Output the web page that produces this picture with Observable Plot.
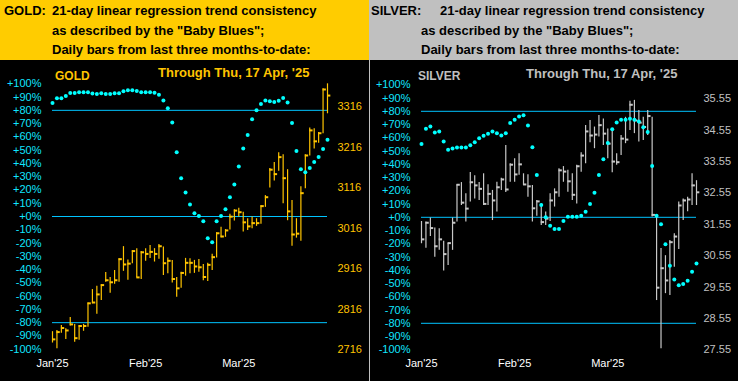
<!DOCTYPE html>
<html><head><meta charset="utf-8">
<script src="https://cdn.jsdelivr.net/npm/d3@7"></script>
<script src="https://cdn.jsdelivr.net/npm/@observablehq/plot@0.6"></script>
<style>
html,body{margin:0;padding:0;background:#000;}
body{width:738px;height:381px;overflow:hidden;font-family:"Liberation Sans",Arial,sans-serif;}
#wrap{position:relative;width:738px;height:381px;}
.panel{position:absolute;top:0;width:369px;height:381px;}
.head{position:absolute;left:0;top:0;width:369px;height:60px;font-weight:bold;font-size:13px;color:#000;}
.head span{position:absolute;white-space:nowrap;line-height:14px;}
.plotarea{position:absolute;left:0;top:60px;width:369px;height:321px;background:#000;}
.plotarea svg{position:absolute;left:0;top:0;}
.ptitle{position:absolute;font-weight:bold;white-space:nowrap;}
.vline{position:absolute;left:0;top:0;width:1px;height:321px;background:#c0c0c0;}
</style></head>
<body>
<div id="wrap">
  <div class="panel" id="gold" style="left:0">
    <div class="head" style="background:#ffcc00">
      <span style="left:4px;top:4px">GOLD:</span>
      <span style="left:52px;top:4px">21-day linear regression trend consistency</span>
      <span style="left:52px;top:24px">as described by the "Baby Blues";</span>
      <span style="left:52px;top:43px">Daily bars from last three months-to-date:</span>
    </div>
    <div class="plotarea" id="goldPlot">
      <div class="ptitle" style="left:55px;top:10px;font-size:12px;line-height:12px;color:#ffc400">GOLD</div>
      <div class="ptitle" style="left:158px;top:6px;font-size:13px;line-height:13px;color:#ffc400">Through Thu, 17 Apr, '25</div>
    </div>
  </div>
  <div class="panel" id="silver" style="left:369px">
    <div class="head" style="background:#c0c0c0">
      <span style="left:2px;top:4px">SILVER:</span>
      <span style="left:71px;top:4px">21-day linear regression trend consistency</span>
      <span style="left:52px;top:24px">as described by the "Baby Blues";</span>
      <span style="left:52px;top:43px">Daily bars from last three months-to-date:</span>
    </div>
    <div class="plotarea" id="silverPlot">
      <div class="vline"></div>
      <div class="ptitle" style="left:49px;top:10px;font-size:12px;line-height:12px;color:#c0c0c0">SILVER</div>
      <div class="ptitle" style="left:157px;top:7px;font-size:13px;line-height:13px;color:#c0c0c0">Through Thu, 17 Apr, '25</div>
    </div>
  </div>
</div>
<script>
// ---- Data ----
const xTickIdx = [0, 21, 42];
const xTickLabels = ["Jan'25", "Feb'25", "Mar'25"];
const pctTicks = [-100, -90, -80, -70, -60, -50, -40, -30, -20, -10, 0, 10, 20, 30, 40, 50, 60, 70, 80, 90, 100];
const levels = [80, 0, -80];

const goldPriceTicks = [2716, 2816, 2916, 3016, 3116, 3216, 3316];
const silverPriceTicks = [27.55, 28.55, 29.55, 30.55, 31.55, 32.55, 33.55, 34.55, 35.55];

const goldHigh = [2760, 2763, 2775, 2767, 2795, 2778, 2775, 2778, 2831, 2864,
  2872, 2876, 2906, 2894, 2911, 2940, 2970, 2937, 2960, 2965,
  2958, 2965, 2973, 2965, 2975, 2969, 2942, 2936, 2894, 2907,
  2941, 2940, 2936, 2938, 2926, 2929, 2951, 3004, 3018, 3012,
  3050, 3061, 3065, 3055, 3039, 3043, 3039, 3071, 3096, 3163,
  3178, 3202, 3197, 3160, 3084, 3039, 3118, 3197, 3263, 3261,
  3252, 3360, 3372];
const goldLow = [2732, 2718, 2756, 2741, 2774, 2734, 2739, 2761, 2771, 2829,
  2803, 2837, 2882, 2855, 2877, 2882, 2909, 2887, 2928, 2893,
  2889, 2934, 2941, 2932, 2939, 2899, 2903, 2880, 2845, 2867,
  2897, 2903, 2904, 2907, 2886, 2884, 2911, 2942, 2992, 2993,
  3011, 3033, 3043, 3006, 3010, 3014, 3020, 3025, 3067, 3115,
  3132, 3156, 3076, 3034, 2971, 2991, 2983, 3113, 3194, 3211,
  3225, 3249, 3298];
const goldClose = [2741, 2759, 2769, 2763, 2778, 2744, 2774, 2774, 2830, 2832,
  2852, 2875, 2887, 2882, 2887, 2939, 2926, 2928, 2959, 2894,
  2956, 2952, 2957, 2952, 2971, 2929, 2935, 2890, 2867, 2905,
  2930, 2930, 2921, 2919, 2895, 2925, 2944, 3003, 2995, 3010,
  3044, 3059, 3055, 3030, 3020, 3028, 3028, 3070, 3092, 3160,
  3149, 3191, 3139, 3057, 3000, 3002, 3102, 3195, 3257, 3230,
  3250, 3358, 3343];
const goldBlues = [85.5, 89.1, 89.1, 90.8, 93.1, 93.1, 93.6, 93.6, 93.6, 92.6,
  92.3, 92.8, 92.3, 92.3, 92.8, 92.8, 94.3, 95.1, 95.1, 94.6,
  93.6, 93.6, 93.6, 93.3, 91.8, 87.5, 81.5, 70.9, 48.5, 28.9,
  18.1, 9.1, 2.5, 0.3, -3.5, -16.4, -19.4, -3.5, 0.3, 5.5,
  14.6, 24.2, 37.7, 51.3, 61.4, 73.2, 80, 84.8, 87.5, 86.8,
  86.3, 87.3, 89.3, 86, 70.4, 49.3, 35.7, 33.4, 36.5, 41,
  44.8, 50.8, 57.9];

const silverHigh = [31.64, 31.62, 31.75, 31.43, 31.41, 31.01, 30.95, 31.75, 32.81, 32.88,
  32.52, 33.20, 33.10, 32.88, 33.16, 32.81, 32.63, 32.89, 33.02, 34.06,
  33.48, 33.64, 33.80, 33.16, 33.13, 32.79, 32.31, 32.20, 31.94, 32.52,
  32.68, 33.32, 33.39, 33.27, 33.16, 33.43, 33.83, 34.70, 34.86, 34.65,
  35.02, 34.91, 34.59, 34.59, 33.80, 34.38, 34.96, 35.47, 35.50, 35.18,
  34.96, 35.18, 34.96, 31.78, 30.78, 30.55, 31.03, 31.25, 32.26, 32.36,
  32.41, 33.16, 32.94];
const silverLow = [30.93, 30.79, 31.16, 30.50, 30.72, 30.06, 30.24, 30.72, 31.62, 32.15,
  31.62, 32.26, 32.36, 32.31, 32.15, 32.15, 31.67, 31.94, 32.63, 32.56,
  32.89, 32.89, 33.11, 32.79, 32.41, 31.62, 31.81, 31.51, 31.51, 31.64,
  32.10, 32.41, 32.89, 32.57, 32.31, 32.20, 33.21, 33.48, 34.15, 33.96,
  34.33, 34.06, 33.64, 33.19, 33.43, 33.74, 34.12, 34.54, 34.44, 34.17,
  34.22, 34.38, 31.78, 29.12, 27.58, 29.34, 29.28, 30.18, 30.75, 31.67,
  31.95, 32.15, 32.15];
const silverClose = [31.07, 31.60, 31.43, 30.85, 31.07, 30.60, 30.95, 31.60, 32.81, 32.24,
  32.05, 32.89, 32.79, 32.68, 32.20, 32.52, 32.31, 32.73, 32.98, 32.66,
  33.45, 33.14, 33.46, 32.82, 32.76, 32.06, 32.28, 31.62, 31.73, 32.31,
  32.57, 33.27, 33.23, 32.92, 32.49, 33.40, 33.74, 34.51, 34.38, 34.41,
  34.71, 34.44, 34.12, 33.55, 33.53, 34.28, 34.25, 35.36, 34.86, 34.79,
  34.65, 35.00, 31.85, 29.53, 30.15, 29.76, 30.98, 31.16, 32.15, 32.31,
  32.34, 32.79, 32.57];
const silverBlues = [55.4, 66.8, 68.5, 64, 64.7, 57.2, 50.9, 51.9, 52.6, 52.6,
  52.6, 54.4, 56.7, 59.7, 61.5, 63, 64.7, 63.5, 61.7, 63.5,
  71.1, 73.6, 76.1, 77.1, 69.3, 52.9, 32, 9.3, 0, -6.3,
  -8.8, -8.8, -2.8, 0.5, 0.5, 0.5, 1.2, 4.2, 10, 18.6,
  32, 43.9, 56, 66.5, 71.5, 73.6, 73.6, 74.3, 73.6, 72.3,
  68, 64.3, 38.8, 1.2, -5.3, -20.4, -36.6, -46.9, -51.2, -50.4,
  -47.9, -41.1, -34.8];

// ---- Drawing ----
const W = 369, H = 321;
const FONT = "'Liberation Sans', Arial, Helvetica, sans-serif";
const LINE = "#00c4ff", DOT = "#00ffff", PCT = "#10e6ff";
const fmtPct = d => (d >= 0 ? "+" : "") + d + "%";

function drawPanel(el, cfg) {
  const N = cfg.close.length;
  const idx = d3.range(N);
  const xScale = {type: "linear", domain: [0, N - 1], range: [52, 327]};
  const pctY = {domain: [-100, 100], range: cfg.pctRange};
  const common = {width: W, height: H, marginLeft: 44, marginTop: 0, marginBottom: 25,
    style: {background: "transparent", fontFamily: FONT, fontSize: "11px", overflow: "visible"}};

  // Percent frame: reference lines and axes
  const base = Plot.plot({...common, marginRight: 0, x: xScale, y: pctY,
    marks: [
      Plot.ruleY(levels, {y: d => d, x1: () => 0, x2: () => N - 1, stroke: LINE, strokeWidth: 1}),
      Plot.axisY(pctTicks, {anchor: "left", tickSize: 0, tickPadding: 3, tickFormat: fmtPct,
        color: PCT, fontSize: 11, label: null}),
      Plot.axisX(xTickIdx, {anchor: "bottom", tickSize: 0, tickPadding: 3,
        tickFormat: d => xTickLabels[xTickIdx.indexOf(d)], color: "#ffffff", fontSize: 11, label: null})
    ]});

  // Price bars with their own right-hand axis
  const bars = Plot.plot({...common, marginRight: cfg.marginRight, x: {...xScale, axis: null},
    y: {domain: [cfg.priceTicks[0], cfg.priceTicks[cfg.priceTicks.length - 1]], range: cfg.priceRange},
    marks: [
      Plot.axisY(cfg.priceTicks, {anchor: "right", tickSize: 0, tickPadding: 3, tickFormat: cfg.fmt,
        color: cfg.labelColor, fontSize: 11, label: null}),
      Plot.ruleX(idx, {x: i => i, y1: i => cfg.low[i], y2: i => cfg.high[i], stroke: cfg.barColor, strokeWidth: 1.2}),
      Plot.ruleY(idx, {y: i => cfg.close[i], x1: i => i, x2: i => i + 0.75, stroke: cfg.barColor, strokeWidth: 2})
    ]});

  // Baby Blues dots on top
  const dots = Plot.plot({...common, marginRight: 0, x: {...xScale, axis: null}, y: {...pctY, axis: null},
    marks: [
      Plot.dot(idx, {x: i => i, y: i => cfg.blues[i], r: 2, fill: DOT, stroke: "none"})
    ]});

  el.appendChild(base);
  el.appendChild(bars);
  el.appendChild(dots);
}

drawPanel(document.getElementById("goldPlot"), {
  high: goldHigh, low: goldLow, close: goldClose, blues: goldBlues,
  priceTicks: goldPriceTicks, fmt: d => String(d),
  pctRange: [288.7, 23.3], priceRange: [289, 46], marginRight: 35,
  barColor: "#ffc400", labelColor: "#ffc400"
});
drawPanel(document.getElementById("silverPlot"), {
  high: silverHigh, low: silverLow, close: silverClose, blues: silverBlues,
  priceTicks: silverPriceTicks, fmt: d => d.toFixed(2),
  pctRange: [289.3, 24.3], priceRange: [289.3, 38.3], marginRight: 38,
  barColor: "#c8c8c8", labelColor: "#c0c0c0"
});
</script>
</body></html>
